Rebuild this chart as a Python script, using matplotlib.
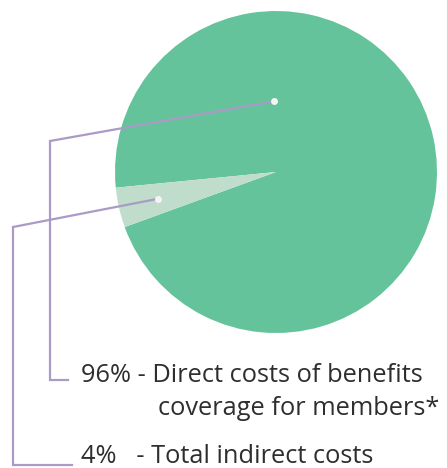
import matplotlib.pyplot as plt
import numpy as np

# Datos
labels = ['96% - Direct costs of benefits', 'coverage for members*', '4%   - Total indirect costs']
values = [96, 4]
colors = ['#65c39b', '#c0ddcc']

W, H = 447, 468
fig = plt.figure(figsize=(W / 100, H / 100), dpi=100)
ax = fig.add_axes([0, 0, 1, 1])

cx, cy, R = 276, 296, 161
wedges, _ = ax.pie(values, colors=colors, startangle=200, counterclock=True,
                   center=(cx, cy), radius=R, frame=True,
                   wedgeprops=dict(linewidth=0))
ax.set_xlim(0, W)
ax.set_ylim(0, H)
ax.set_aspect('equal')
ax.axis('off')

line_col = '#a99bc6'

# Punto del 96%
a1 = np.deg2rad(91.6)
p1 = (cx + 0.44 * R * np.cos(a1), cy + 0.44 * R * np.sin(a1))
# Punto del 4% (centro de la cuña)
w = wedges[1]
a2 = np.deg2rad((w.theta1 + w.theta2) / 2)
p2 = (cx + 0.75 * R * np.cos(a2), cy + 0.75 * R * np.sin(a2))

# Líneas guía
ax.plot([p1[0], 50, 50, 68], [p1[1], H - 141, H - 380, H - 380],
        color=line_col, lw=1.6, solid_joinstyle='miter')
ax.plot([p2[0], 13, 13, 72], [p2[1], H - 227, H - 465, H - 465],
        color=line_col, lw=1.6, solid_joinstyle='miter')
for p in (p1, p2):
    ax.plot(p[0], p[1], 'o', color='#f4f4f4', ms=5, mec='none')

# Textos
fkw = dict(fontsize=18.3, family='Open Sans', color='#2e2e2e',
           va='baseline', ha='left')
ax.text(81, H - 382, labels[0], **fkw)
ax.text(158, H - 415, labels[1], **fkw)
ax.text(81, H - 463, labels[2], **fkw)

fig.savefig('out.png', dpi=100)
